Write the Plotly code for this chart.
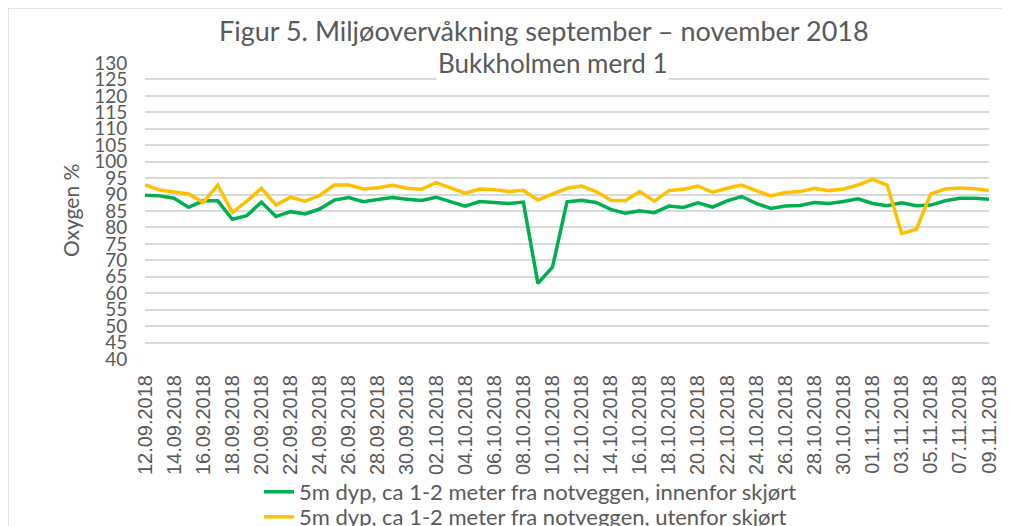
import pandas as pd
import plotly.graph_objects as go

dates = [d.strftime("%d.%m.%Y") for d in pd.date_range("2018-09-12", "2018-11-09", freq="D")]
tick_labels = dates[::2]

inside_skirt = [89.8, 89.6, 88.9, 86.1, 88.1, 88.1, 82.5, 83.6, 87.7, 83.3,
                84.8, 84.1, 85.6, 88.3, 89.1, 87.8, 88.5, 89.1, 88.6, 88.2,
                89.2, 87.8, 86.5, 87.9, 87.6, 87.3, 87.7, 63.0, 67.9, 87.8,
                88.3, 87.6, 85.5, 84.3, 85.1, 84.5, 86.5, 86.1, 87.5, 86.2,
                88.1, 89.4, 87.3, 85.8, 86.5, 86.7, 87.6, 87.3, 87.9, 88.7,
                87.3, 86.6, 87.5, 86.6, 86.8, 88.1, 88.9, 88.9, 88.6]
outside_skirt = [92.9, 91.4, 90.8, 90.2, 87.6, 92.9, 84.6, 88.0, 91.9, 86.8,
                 89.2, 88.0, 89.7, 92.9, 92.9, 91.7, 92.1, 92.8, 91.9, 91.6,
                 93.6, 91.9, 90.4, 91.7, 91.5, 90.9, 91.3, 88.3, 90.1, 91.9,
                 92.6, 90.9, 88.3, 88.1, 90.9, 88.0, 91.2, 91.6, 92.6, 90.7,
                 91.9, 92.9, 91.2, 89.6, 90.6, 90.9, 91.9, 91.2, 91.7, 92.9,
                 94.6, 92.9, 78.2, 79.4, 90.2, 91.7, 92.0, 91.8, 91.2]

series_names = ["5m dyp, ca 1-2 meter fra notveggen, innenfor skjørt",
                "5m dyp, ca 1-2 meter fra notveggen, utenfor skjørt"]
title_line1 = "Figur 5. Miljøovervåkning september – november 2018"
title_line2 = "Bukkholmen merd 1"
y_title = "Oxygen %"

GRAY = "#595959"
OFF = 8                       # page body margin
W, H = 1010 - OFF, 526 - OFF
PL, PR, PT, PB = 145, 989, 63, 359   # plot area in page pixels
L, T = PL - OFF, PT - OFF
R, B = W - (PR - OFF), H - (PB - OFF)
pw, ph = PR - PL, PB - PT


def px(x):
    return (x - PL) / pw


def py(y):
    return (PB - y) / ph


fig = go.Figure()
fig.add_trace(go.Scatter(x=dates, y=inside_skirt, mode="lines", name=series_names[0],
                         line=dict(color="#00b050", width=3.5), legend="legend"))
fig.add_trace(go.Scatter(x=dates, y=outside_skirt, mode="lines", name=series_names[1],
                         line=dict(color="#ffc000", width=3.5), legend="legend2"))

legend_style = dict(orientation="v", x=px(259), xanchor="left", yanchor="middle",
                    font=dict(size=22, color=GRAY, family="Lato"),
                    bgcolor="rgba(0,0,0,0)")

fig.update_layout(
    width=W, height=H,
    margin=dict(l=L, r=R, t=T, b=B, autoexpand=False),
    paper_bgcolor="white", plot_bgcolor="white",
    font=dict(family="Lato, Open Sans, sans-serif", color=GRAY),
    showlegend=True,
    legend=dict(y=py(492), **legend_style),
    legend2=dict(y=py(517), **legend_style),
    xaxis=dict(type="category", tickmode="array", tickvals=tick_labels, ticktext=tick_labels,
               tickangle=-90, showgrid=False, showline=False, zeroline=False,
               tickfont=dict(family="Liberation Sans", size=20, color=GRAY),
               ticks="outside", ticklen=7, tickcolor="rgba(0,0,0,0)"),
    yaxis=dict(range=[40, 130], dtick=5, tick0=40, showgrid=True, gridcolor="#d9d9d9",
               gridwidth=1.5, zeroline=False, showline=False,
               tickfont=dict(family="Lato", size=19, color=GRAY),
               ticks="outside", ticklen=13, tickcolor="rgba(0,0,0,0)"),
    annotations=[
        dict(text=title_line1, xref="paper", yref="paper", x=px(544), y=py(30),
             xanchor="center", yanchor="middle", showarrow=False,
             font=dict(size=27, color=GRAY, family="Lato")),
        dict(text=title_line2, xref="paper", yref="paper", x=px(552), y=py(63),
             xanchor="center", yanchor="middle", showarrow=False, bgcolor="white",
             font=dict(size=26, color=GRAY, family="Lato")),
        dict(text=y_title, xref="paper", yref="paper", x=px(70), y=0.5,
             xanchor="center", yanchor="middle", textangle=-90, showarrow=False,
             font=dict(size=21, color=GRAY, family="Lato")),
    ],
    shapes=[dict(type="rect", xref="paper", yref="paper", layer="below",
                 x0=px(8), x1=px(1030), y0=py(545), y1=py(8),
                 line=dict(color="#d9d9d9", width=1.5), fillcolor="rgba(0,0,0,0)")],
)

fig.write_html("out.html")
